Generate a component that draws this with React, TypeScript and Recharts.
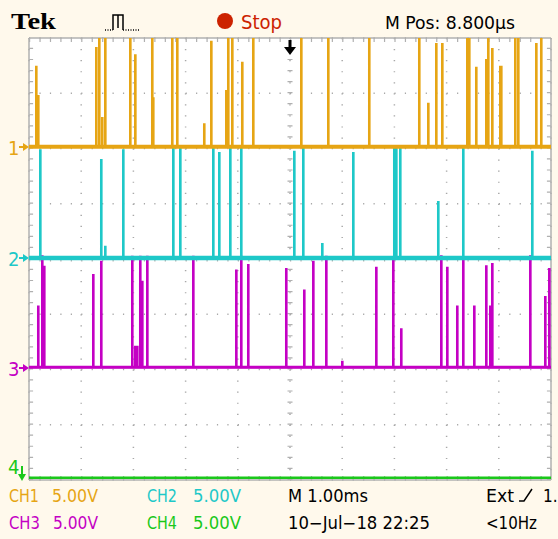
import { ComposedChart, Line, XAxis, YAxis, CartesianGrid, ReferenceLine } from 'recharts';

// time axis in ms (M 1.00ms / div), vertical axis in divisions
const timeTicks = [0, 1, 2, 3, 4, 5, 6, 7, 8, 9, 10];
const divTicks = [-4, -3, -2, -1, 0, 1, 2, 3, 4];

// ground level of each channel (divisions)
const ch1Pos = 2.03;
const ch2Pos = 0.02;
const ch3Pos = -1.96;
const ch4Pos = -3.96;

// pulses: [time ms, top level in divisions]
const ch1Pulses: [number, number][] = [
  [0.134, 3.48], [0.172, 2.95], [1.284, 3.82], [1.341, 4], [1.398, 2.55], [1.456, 4],
  [1.935, 4], [2.031, 3.69], [2.356, 4], [2.375, 2.91], [2.739, 4], [2.835, 4],
  [3.352, 2.44], [3.487, 3.93], [3.774, 3.04], [3.812, 4], [3.889, 4], [4.08, 3.55],
  [4.291, 4], [5.211, 4], [5.728, 4], [6.513, 4], [7.471, 4], [7.644, 2.81],
  [7.797, 3.89], [7.912, 3.89], [8.391, 4], [8.429, 4], [8.563, 3.46], [8.755, 3.6],
  [8.793, 4], [8.87, 3.8], [9.023, 3.48], [9.042, 3.48], [9.31, 4], [9.368, 4],
  [9.713, 3.89], [9.808, 4],
];

const ch2Pulses: [number, number][] = [
  [0.211, 1.97], [1.379, 1.79], [1.456, 0.22], [1.801, 1.97], [2.759, 2.03], [2.893, 2.01],
  [3.525, 2.01], [3.64, 1.92], [3.851, 2.03], [4.061, 2.01], [5.077, 1.94], [5.249, 2.01],
  [5.613, 0.27], [6.207, 1.92], [6.992, 2.03], [7.031, 2.03], [7.107, 2.01], [7.835, 1.03],
  [8.314, 2.01], [9.636, 1.94],
];

const ch3Pulses: [number, number][] = [
  [0.172, -0.86], [0.249, 0.05], [0.287, -0.14], [1.226, -0.29], [1.379, -0.05], [1.973, 0.04],
  [2.031, -1.59], [2.069, -1.59], [2.126, 0.04], [2.165, -0.41], [2.261, 0.04], [3.142, 0.04],
  [3.966, -0.21], [4.061, 0.04], [4.195, -0.11], [4.923, -0.18], [5.268, -0.57], [5.441, -0.05],
  [5.69, 0.04], [5.996, -1.86], [6.648, -0.16], [6.973, -0.02], [7.126, -1.27], [7.893, 0.05],
  [8.008, -0.16], [8.199, -0.86], [8.314, -0.02], [8.525, -0.86], [8.755, -0.13], [8.831, -0.86],
  [8.87, -0.09], [9.598, 0.05], [9.885, -0.69], [9.962, -0.18],
];

const CH1 = '#E6A514';
const CH2 = '#1EC8C8';
const CH3 = '#C400C4';
const CH4 = '#1AC81A';
const GRAY = '#B0B0B0';
const CREAM = '#FFF9EC';

const PULSE_W = 0.012;

function trace(pos: number, pulses: [number, number][]) {
  const pts = [{ t: 0, v: pos }];
  pulses.forEach(([t, top]) => {
    pts.push({ t, v: pos }, { t, v: top }, { t: t + PULSE_W, v: top }, { t: t + PULSE_W, v: pos });
  });
  pts.push({ t: 10, v: pos });
  return pts;
}

const ground = (pos: number) => [{ t: 0, v: pos }, { t: 10, v: pos }];

const footFont = '"Liberation Sans Narrow", "DejaVu Sans Condensed", "Liberation Sans", sans-serif';

function Marker({ n, y, color }: { n: string; y: number; color: string }) {
  return (
    <g fill={color} stroke={color}>
      <text x={8} y={y + 8} fontSize={20} fontFamily={footFont} stroke="none">{n}</text>
      <line x1={19} y1={y} x2={25} y2={y} strokeWidth={2} />
      <path d={`M${23} ${y - 4} L${29} ${y} L${23} ${y + 4} Z`} stroke="none" />
    </g>
  );
}

export default function App() {
  return (
    <div style={{ position: 'absolute', left: 0, top: 0, width: 558, height: 539, background: CREAM, overflow: 'hidden' }}>
      <div style={{ position: 'absolute', left: 0, top: 0 }}>
        <ComposedChart width={558} height={539} margin={{ top: 38, right: 7, bottom: 59, left: 29 }}>
          <CartesianGrid fill="#FFFFFF" horizontal={false} stroke="#A8A8A8" strokeWidth={1.5} strokeDasharray="1.2 9.85" />
          <CartesianGrid vertical={false} stroke="#A8A8A8" strokeWidth={1.5} strokeDasharray="1.2 9.24" />
          <XAxis type="number" dataKey="t" domain={[0, 10]} ticks={timeTicks} allowDataOverflow hide />
          <YAxis type="number" dataKey="v" domain={[-4, 4]} ticks={divTicks} allowDataOverflow hide />

          <ReferenceLine x={5} stroke={GRAY} strokeWidth={5} strokeDasharray="1.2 9.85" />
          <ReferenceLine y={0} stroke={GRAY} strokeWidth={5} strokeDasharray="1.2 9.24" />
          <ReferenceLine x={0.04} stroke={GRAY} strokeWidth={4} strokeDasharray="1.2 9.85" />
          <ReferenceLine x={9.96} stroke={GRAY} strokeWidth={4} strokeDasharray="1.2 9.85" />
          <ReferenceLine y={3.964} stroke={GRAY} strokeWidth={4} strokeDasharray="1.2 9.24" />
          <ReferenceLine y={-3.964} stroke={GRAY} strokeWidth={4} strokeDasharray="1.2 9.24" />
          <ReferenceLine x={0} stroke={GRAY} strokeWidth={1.5} />
          <ReferenceLine x={10} stroke={GRAY} strokeWidth={1.5} />
          <ReferenceLine y={4} stroke={GRAY} strokeWidth={1.5} />
          <ReferenceLine y={-4} stroke={GRAY} strokeWidth={1.5} />

          <Line data={ground(ch4Pos)} dataKey="v" stroke={CH4} strokeWidth={2.5} dot={false} activeDot={false} isAnimationActive={false} />
          <Line data={ground(ch3Pos)} dataKey="v" stroke={CH3} strokeWidth={3} dot={false} activeDot={false} isAnimationActive={false} />
          <Line data={trace(ch3Pos, ch3Pulses)} dataKey="v" stroke={CH3} strokeWidth={2} dot={false} activeDot={false} isAnimationActive={false} />
          <Line data={ground(ch2Pos)} dataKey="v" stroke={CH2} strokeWidth={4.5} dot={false} activeDot={false} isAnimationActive={false} />
          <Line data={trace(ch2Pos, ch2Pulses)} dataKey="v" stroke={CH2} strokeWidth={2} dot={false} activeDot={false} isAnimationActive={false} />
          <Line data={ground(ch1Pos)} dataKey="v" stroke={CH1} strokeWidth={4} dot={false} activeDot={false} isAnimationActive={false} />
          <Line data={trace(ch1Pos, ch1Pulses)} dataKey="v" stroke={CH1} strokeWidth={2} dot={false} activeDot={false} isAnimationActive={false} />
        </ComposedChart>
      </div>

      <svg width={558} height={539} style={{ position: 'absolute', left: 0, top: 0, pointerEvents: 'none' }}>
        {/* header */}
        <text x={11} y={29} fontSize={23} fontWeight="bold" fontFamily='"Liberation Serif", serif' textLength={45} lengthAdjust="spacingAndGlyphs">Tek</text>
        <path d="M105 30 H113" stroke="#000" strokeWidth={1.5} strokeDasharray="1 1.5" fill="none" />
        <path d="M113 30 V15 H118 V28 M118 15 H123 V30" stroke="#000" strokeWidth={1.5} fill="none" />
        <path d="M123 30 H140" stroke="#000" strokeWidth={1.5} strokeDasharray="1 1.5" fill="none" />
        <circle cx={225} cy={21} r={8} fill="#CC2200" />
        <text x={241} y={29} fontSize={19} fontFamily={footFont} fill="#CC2200" textLength={41} lengthAdjust="spacingAndGlyphs">Stop</text>
        <text x={385} y={29} fontSize={18} fontFamily={footFont} fill="#000" textLength={130} lengthAdjust="spacingAndGlyphs">M Pos: 8.800µs</text>

        {/* trigger position */}
        <rect x={288.5} y={40} width={3} height={8} fill="#000" />
        <path d="M284 47 L296 47 L290 55 Z" fill="#000" />

        {/* channel ground markers */}
        <Marker n="1" y={147} color={CH1} />
        <Marker n="2" y={258} color={CH2} />
        <Marker n="3" y={368} color={CH3} />
        <g fill={CH4} stroke={CH4}>
          <text x={8} y={474} fontSize={20} fontFamily={footFont} stroke="none">4</text>
          <line x1={22} y1={466} x2={22} y2={475} strokeWidth={2} />
          <path d="M18 474 L26 474 L22 481 Z" stroke="none" />
        </g>

        {/* footer */}
        <g fontSize={17} fontFamily={footFont}>
          <text x={9} y={502} fill={CH1} textLength={30} lengthAdjust="spacingAndGlyphs">CH1</text>
          <text x={52} y={502} fill={CH1} textLength={46} lengthAdjust="spacingAndGlyphs">5.00V</text>
          <text x={147} y={502} fill={CH2} textLength={30} lengthAdjust="spacingAndGlyphs">CH2</text>
          <text x={193} y={502} fill={CH2} textLength={48} lengthAdjust="spacingAndGlyphs">5.00V</text>
          <text x={288} y={502} fill="#000" textLength={80} lengthAdjust="spacingAndGlyphs">M 1.00ms</text>
          <text x={486} y={502} fill="#000" textLength={28} lengthAdjust="spacingAndGlyphs">Ext</text>
          <path d="M519 501 H524 L532 489" stroke="#000" strokeWidth={1.5} fill="none" />
          <text x={543} y={502} fill="#000">1.</text>

          <text x={9} y={529} fill={CH3} textLength={31} lengthAdjust="spacingAndGlyphs">CH3</text>
          <text x={53} y={529} fill={CH3} textLength={45} lengthAdjust="spacingAndGlyphs">5.00V</text>
          <text x={147} y={529} fill={CH4} textLength={30} lengthAdjust="spacingAndGlyphs">CH4</text>
          <text x={193} y={529} fill={CH4} textLength={48} lengthAdjust="spacingAndGlyphs">5.00V</text>
          <text x={288} y={529} fill="#000" textLength={142} lengthAdjust="spacingAndGlyphs">10−Jul−18 22:25</text>
          <text x={486} y={529} fill="#000" textLength={51} lengthAdjust="spacingAndGlyphs">&lt;10Hz</text>
        </g>
      </svg>
    </div>
  );
}
